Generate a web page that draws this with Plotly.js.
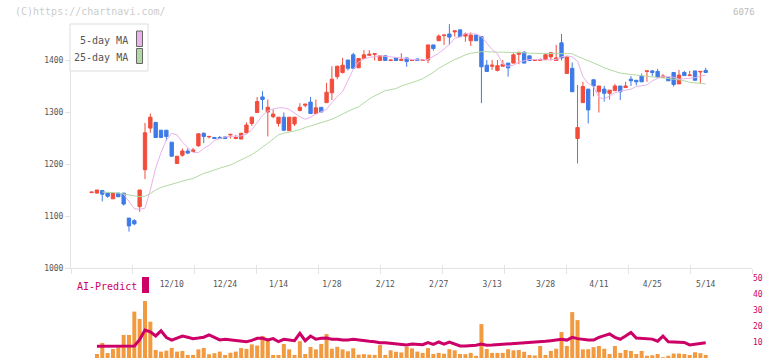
<!DOCTYPE html>
<html><head><meta charset="utf-8">
<script src="https://cdn.plot.ly/plotly-3.0.1.min.js"></script>
<style>html,body{margin:0;padding:0;background:#fff;}#chart{width:772px;height:361px;}</style>
</head><body><div id="chart"></div>
<script>
// ---- data ----
const dates = ['11/19','11/20','11/21','11/22','11/25','11/26','11/27','11/28','11/29',
'12/2','12/3','12/4','12/5','12/6','12/9','12/10','12/11','12/12','12/13','12/16','12/17','12/18','12/19','12/20','12/23','12/24','12/25','12/26','12/27','12/30',
'1/6','1/7','1/8','1/9','1/10','1/14','1/15','1/16','1/17','1/20','1/21','1/22','1/23','1/24','1/27','1/28','1/29','1/30','1/31',
'2/3','2/4','2/5','2/6','2/7','2/10','2/12','2/13','2/14','2/17','2/18','2/19','2/20','2/21','2/25','2/26','2/27','2/28',
'3/3','3/4','3/5','3/6','3/7','3/10','3/11','3/12','3/13','3/14','3/17','3/18','3/19','3/21','3/24','3/25','3/26','3/27','3/28','3/31',
'4/1','4/2','4/3','4/4','4/7','4/8','4/9','4/10','4/11','4/14','4/15','4/16','4/17','4/18','4/21','4/22','4/23','4/24','4/25','4/28','4/30',
'5/1','5/2','5/7','5/8','5/9','5/12','5/13','5/14'];
const open = [1145,1144,1149,1144,1133,1144,1144,1096,1091,1118,1189,1269,1280,1265,1265,1242,1201,1217,1225,1224,
1235,1259,1252,1251,1251,1252,1256,1249,1248,1260,1278,1299,1329,1300,1291,1278,1290,1264,1277,1303,
1313,1319,1297,1309,1318,1337,1368,1376,1400,1410,1385,1403,1409,1411,1399,1408,1399,1404,1399,1404,
1399,1402,1399,1400,1429,1437,1447,1450,1454,1458,1446,1437,1448,1445,1390,1388,1380,1388,1394,1394,
1411,1415,1408,1399,1399,1401,1406,1399,1433,1374,1384,1249,1318,1344,1362,1339,1344,1336,1341,1350,
1347,1363,1361,1369,1378,1379,1378,1367,1366,1376,1354,1376,1370,1379,1377,1380];
const high = [1146,1150,1150,1145,1145,1144,1144,1096,1094,1150,1279,1297,1281,1265,1265,1242,1215,1230,1230,1231,
1259,1261,1254,1252,1254,1253,1257,1256,1260,1280,1291,1329,1340,1324,1305,1290,1299,1290,1290,1317,
1315,1329,1324,1309,1356,1388,1389,1404,1400,1414,1403,1419,1419,1412,1408,1408,1400,1404,1413,1404,
1400,1403,1400,1429,1429,1449,1448,1469,1456,1458,1453,1453,1448,1445,1400,1400,1400,1400,1394,1413,
1415,1417,1408,1400,1403,1413,1414,1429,1450,1406,1395,1352,1358,1344,1362,1350,1350,1342,1354,1350,
1358,1369,1361,1374,1379,1381,1383,1373,1366,1376,1381,1379,1379,1379,1378,1385];
const low = [1145,1143,1128,1135,1133,1137,1120,1070,1082,1108,1171,1260,1250,1250,1245,1214,1200,1214,1219,1224,
1233,1240,1249,1248,1249,1249,1249,1248,1248,1259,1273,1298,1304,1253,1288,1272,1263,1264,1273,1301,
1309,1297,1297,1300,1318,1323,1363,1374,1380,1384,1385,1403,1409,1399,1399,1399,1399,1399,1399,1387,
1399,1399,1399,1394,1418,1437,1429,1429,1445,1445,1435,1427,1437,1317,1378,1381,1378,1388,1368,1394,
1392,1394,1399,1399,1399,1401,1399,1399,1399,1374,1339,1201,1318,1278,1330,1299,1320,1324,1341,1323,
1347,1350,1351,1358,1358,1369,1367,1367,1360,1349,1354,1370,1370,1361,1355,1376];
const close = [1146,1150,1142,1138,1144,1137,1123,1081,1085,1150,1260,1290,1251,1251,1253,1215,1215,1225,1221,1227,
1258,1253,1253,1249,1249,1249,1257,1251,1259,1275,1290,1320,1324,1309,1296,1290,1265,1290,1290,1309,
1315,1297,1308,1300,1338,1363,1388,1390,1384,1384,1403,1410,1411,1412,1408,1399,1400,1399,1401,1397,
1400,1399,1400,1429,1422,1446,1448,1444,1456,1445,1450,1448,1437,1387,1378,1390,1389,1392,1385,1410,
1415,1394,1399,1400,1401,1410,1414,1404,1404,1406,1339,1270,1349,1304,1350,1350,1336,1342,1350,1339,
1350,1360,1358,1358,1379,1376,1367,1369,1360,1353,1371,1370,1371,1361,1378,1376];
const ma5 = [null,null,null,null,null,null,1142,1128,1114,1113,1115,1150,1192,1222,1246,1259,1256,1242,1231,1222,
1222,1230,1236,1245,1249,1252,1253,1253,1254,1257,1266,1280,1293,1302,1306,1308,1308,1305,1298,1291,
1286,1290,1296,1300,1305,1318,1330,1339,1360,1382,1396,1402,1405,1406,1408,1407,1406,1406,1405,1403,
1401,1400,1400,1401,1407,1413,1421,1430,1442,1444,1451,1451,1450,1445,1433,1420,1412,1392,1388,1390,
1396,1399,1401,1401,1400,1400,1401,1401,1406,1408,1406,1398,1368,1355,1349,1328,1325,1331,1337,1340,
1342,1344,1349,1351,1352,1360,1365,1369,1368,1367,1363,1364,1365,1366,1369,1371];
const ma25 = [null,null,1146,1146,1145,1144,1142,1140,1138,1137,1138,1143,1150,1155,1158,1161,1165,1168,1170,1172,
1177,1182,1185,1189,1192,1195,1198,1203,1208,1212,1218,1225,1232,1240,1248,1256,1259,1261,1264,1266,
1270,1273,1276,1280,1283,1286,1291,1296,1302,1306,1310,1318,1325,1331,1336,1341,1343,1345,1350,1353,
1356,1360,1364,1370,1376,1384,1390,1396,1401,1405,1410,1413,1415,1416,1416,1415,1415,1415,1415,1415,
1414,1414,1413,1413,1413,1413,1413,1413,1413,1413,1412,1407,1403,1399,1395,1390,1385,1381,1378,1375,
1373,1372,1371,1370,1369,1368,1367,1366,1364,1363,1362,1360,1357,1356,1355,1354];
const volume = [0,2.5,9.4,3.1,5.6,6.7,14.4,14.4,29,24.4,35.6,22.7,5,4,4.6,6.3,4,4.4,1.9,1.9,
5.4,6.3,2.3,3,4,1.9,3.3,4,6.2,5.7,8.5,7.8,13.8,11.5,1.9,1.9,8.8,5.4,1.9,10.5,
2.5,6.9,5.4,8.8,15,5.8,7,5.4,4.2,6.1,2.1,2.4,2.1,1.9,8.1,1.9,4.8,3.9,3.5,7,
6,4,3.2,6.2,2.5,3.2,2.7,5.5,4.8,2.5,2.4,3.2,1.4,21.2,5.6,3.2,3.2,3.2,5.5,4.8,
5,3.9,1.9,1.6,7.5,1.9,4.4,5.8,16.2,7.5,28.7,23.7,5.4,5.5,6.8,7.5,5.8,2.5,7.5,3.2,
5,4.4,2.5,4.4,1.4,1.7,2.5,0.5,1.4,2.8,2.8,2.5,1.9,3.6,3,1.9];
const aiPredict = [null,7.3,7.3,7.3,7.3,7.3,7.3,7.3,7.5,11.5,17.5,16.3,13.8,17,12.8,11.2,12.5,13.7,13,12.1,
12.5,13,14.4,12.8,11.3,11.7,11.3,10.8,10.5,10.2,11,12.3,12.3,11.3,12.1,10.2,11.7,11.2,10.8,15.4,
10.8,13.7,11.7,12.3,12.5,11.7,11.7,11.2,11.2,11.7,11.2,10.8,10.5,10.2,9.6,9.5,9.2,8.8,8.3,8.1,
8.7,8.5,8.3,9.6,8.5,10,8.7,10,8.8,7.5,7.5,7.6,8,8.8,8,8.1,8.3,8.5,8.8,9.2,
9.4,9.6,9.8,10,10.2,10.4,10.8,11.3,11.7,11.2,12.9,12.1,11.5,11.2,11.2,12.9,14,15,12.9,11.7,
13.7,16,12.5,12.3,12.3,11.8,10.5,13.7,10.2,10,10,9.7,8.2,8.7,9,9.5];
const labelDates = ['12/10','12/24','1/14','1/28','2/12','2/27','3/13','3/28','4/11','4/25','5/14'];
const priceTicks = [1000,1100,1200,1300,1400];
const volTicks = [0,10,20,30,40,50];

// ---- styling / geometry ----
const RED = '#f24d3c', BLUE = '#3e7be8', PINK = '#eab2ea', GREEN = '#b2d9a4';
const ORANGE = '#f29a40', CRIMSON = '#cc0066', AXIS = '#e3e3e3';
const MONO = 'DejaVu Sans Mono, monospace';
const W = 772, H = 361, L = 71, R = 752, T = 24, B = 358;
const px = p => (p - L) / (R - L);
const py = p => (B - p) / (B - T);
const step = 5.34, first = 91.6;
const r0 = -(first - L) / step, r1 = r0 + (R - L) / step;
const mainBottom = py(268);
const priceTop = 1000 + (268 - T) / 0.52;
const volTop = py(278);
const SEGMENTS = 11;

const traces = [
  {type:'scatter', mode:'lines', x:dates, y:ma25, line:{color:GREEN, width:1}, xaxis:'x', yaxis:'y', hoverinfo:'skip', showlegend:false},
  {type:'scatter', mode:'lines', x:dates, y:ma5, line:{color:PINK, width:1}, xaxis:'x', yaxis:'y', hoverinfo:'skip', showlegend:false},
  {type:'candlestick', x:dates, open:open, high:high, low:low, close:close, xaxis:'x', yaxis:'y',
   increasing:{line:{color:RED, width:1}, fillcolor:RED},
   decreasing:{line:{color:BLUE, width:1}, fillcolor:BLUE},
   whiskerwidth:0, hoverinfo:'skip', showlegend:false},
  {type:'bar', x:dates, y:volume, xaxis:'x2', yaxis:'y2', marker:{color:ORANGE, line:{width:0}}, hoverinfo:'skip', showlegend:false},
  {type:'scatter', mode:'lines', x:dates, y:aiPredict, xaxis:'x2', yaxis:'y2', line:{color:CRIMSON, width:3}, hoverinfo:'skip', showlegend:false},
  // empty traces so the tick-mark-only axes get drawn
  {type:'scatter', mode:'lines', x:[], y:[], xaxis:'x3', yaxis:'y', hoverinfo:'skip', showlegend:false},
  {type:'scatter', mode:'lines', x:[], y:[], xaxis:'x4', yaxis:'y', hoverinfo:'skip', showlegend:false}
];

const layout = {
  width:W, height:H, margin:{l:L, r:W-R, t:T, b:H-B, pad:0},
  paper_bgcolor:'#fff', plot_bgcolor:'#fff', showlegend:false,
  boxgap:0.1, bargap:0.25,
  font:{family:MONO, size:8, color:'#555'},
  xaxis:{type:'category', range:[r0,r1], domain:[0,1], anchor:'y', rangeslider:{visible:false},
    tickvals:labelDates, ticktext:labelDates, ticks:'outside', ticklen:8, tickcolor:'rgba(0,0,0,0)',
    tickfont:{family:MONO, size:8, color:'#555'}, showline:true, linecolor:AXIS, linewidth:1,
    showgrid:false, zeroline:false, fixedrange:true},
  xaxis3:{overlaying:'x', anchor:'y', range:[0,SEGMENTS], tick0:0, dtick:1, ticks:'outside', ticklen:5,
    tickcolor:AXIS, showticklabels:false, showline:false, showgrid:false, zeroline:false},
  xaxis4:{overlaying:'x', anchor:'y', range:[0,SEGMENTS], tick0:0, dtick:1, ticks:'inside', ticklen:3,
    tickcolor:AXIS, showticklabels:false, showline:false, showgrid:false, zeroline:false},
  yaxis:{domain:[mainBottom,1], range:[1000, priceTop], anchor:'x', tickvals:priceTicks,
    ticks:'outside', ticklen:5, tickcolor:AXIS, showline:true, linecolor:AXIS, linewidth:1,
    tickfont:{family:MONO, size:8, color:'#555'}, showgrid:false, zeroline:false},
  xaxis2:{type:'category', range:[r0,r1], domain:[0,1], anchor:'y2', visible:false},
  yaxis2:{domain:[0,volTop], range:[0,50], anchor:'x2', side:'right', tickvals:volTicks, ticks:'',
    tickfont:{family:MONO, size:8, color:CRIMSON}, showline:false, showgrid:false, zeroline:false},
  shapes:[
    {type:'rect', xref:'paper', yref:'paper', x0:px(70), x1:px(148), y0:py(71), y1:py(24),
     fillcolor:'#fff', line:{color:'#dddddd', width:1}},
    {type:'rect', xref:'paper', yref:'paper', x0:px(136.5), x1:px(142.5), y0:py(46.5), y1:py(31),
     fillcolor:PINK, line:{color:'#666', width:1}},
    {type:'rect', xref:'paper', yref:'paper', x0:px(136.5), x1:px(142.5), y0:py(63.5), y1:py(48.5),
     fillcolor:GREEN, line:{color:'#666', width:1}},
    {type:'rect', xref:'paper', yref:'paper', x0:px(142), x1:px(149), y0:py(293), y1:py(277),
     fillcolor:CRIMSON, line:{width:0}}
  ],
  annotations:[
    {text:'(C)https://chartnavi.com/', xref:'paper', yref:'paper', x:px(13), y:py(12), xanchor:'left', yanchor:'middle',
     showarrow:false, font:{family:MONO, size:10, color:'#cccccc'}},
    {text:'6076', xref:'paper', yref:'paper', x:px(757), y:py(12), xanchor:'right', yanchor:'middle',
     showarrow:false, font:{family:MONO, size:9, color:'#bbbbbb'}},
    {text:'5-day MA', xref:'paper', yref:'paper', x:px(130), y:py(40.5), xanchor:'right', yanchor:'middle',
     showarrow:false, font:{family:MONO, size:10, color:'#555'}},
    {text:'25-day MA', xref:'paper', yref:'paper', x:px(130), y:py(57.5), xanchor:'right', yanchor:'middle',
     showarrow:false, font:{family:MONO, size:10, color:'#555'}},
    {text:'AI-Predict', xref:'paper', yref:'paper', x:px(75), y:py(286), xanchor:'left', yanchor:'middle',
     showarrow:false, font:{family:MONO, size:10, color:CRIMSON}}
  ]
};

Plotly.newPlot('chart', traces, layout, {staticPlot:true, displayModeBar:false});
</script>
</body></html>
